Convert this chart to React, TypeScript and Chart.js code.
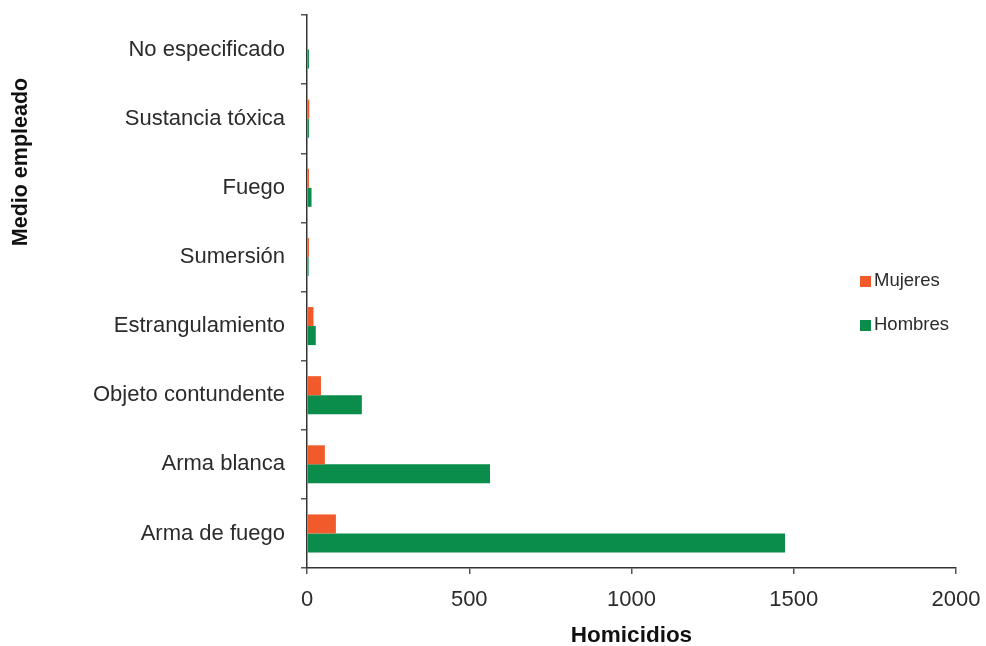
import React, { useEffect, useRef } from "react";
import { Chart, registerables } from "chart.js";

Chart.register(...registerables);

const categories = [
  "No especificado",
  "Sustancia tóxica",
  "Fuego",
  "Sumersión",
  "Estrangulamiento",
  "Objeto contundente",
  "Arma blanca",
  "Arma de fuego",
];
const mujeres = [0, 7, 6, 6, 20, 43, 55, 89];
const hombres = [6, 6, 14, 5, 27, 169, 564, 1473];
const xTicks = [0, 500, 1000, 1500, 2000];

const FONT = "'Liberation Sans', Arial, sans-serif";
const TEXT = "#2b2b2b";
const ORANGE = "#F15A2B";
const GREEN = "#0A8C4A";

const overlay = {
  id: "overlay",
  afterDraw(chart: any) {
    const ctx = chart.ctx;
    ctx.save();
    ctx.fillStyle = "#111";
    ctx.font = `bold 21.5px ${FONT}`;
    ctx.textAlign = "center";
    ctx.textBaseline = "middle";
    ctx.translate(21, 162);
    ctx.rotate(-Math.PI / 2);
    ctx.fillText("Medio empleado", 0, 0);
    ctx.restore();

    ctx.save();
    const items = chart.data.datasets.map((d: any) => ({ label: d.label, color: d.backgroundColor }));
    const ys = [281, 325];
    ctx.font = `18.5px ${FONT}`;
    ctx.textBaseline = "middle";
    ctx.textAlign = "left";
    items.forEach((it: any, i: number) => {
      ctx.fillStyle = it.color;
      ctx.fillRect(860, ys[i] - 5, 11, 11);
      ctx.fillStyle = TEXT;
      ctx.fillText(it.label, 874, ys[i]);
    });
    ctx.restore();
  },
};

export default function App() {
  const ref = useRef<HTMLCanvasElement>(null);
  useEffect(() => {
    const chart = new Chart(ref.current!, {
      type: "bar",
      data: {
        labels: categories,
        datasets: [
          { label: "Mujeres", data: mujeres, backgroundColor: ORANGE, barPercentage: 1, categoryPercentage: 0.55 },
          { label: "Hombres", data: hombres, backgroundColor: GREEN, barPercentage: 1, categoryPercentage: 0.55 },
        ],
      },
      options: {
        indexAxis: "y",
        animation: false,
        responsive: false,
        layout: { padding: { left: 0, top: 15, right: 30, bottom: 0 } },
        plugins: { legend: { display: false }, tooltip: { enabled: false } },
        scales: {
          x: {
            min: 0,
            max: 2000,
            afterBuildTicks: (s: any) => {
              s.ticks = xTicks.map((v) => ({ value: v }));
            },
            grid: { drawOnChartArea: false, drawTicks: true, tickLength: 6, color: "#555", lineWidth: 1.5 },
            border: { display: true, color: "#333", width: 1.5 },
            ticks: {
              color: TEXT,
              font: { family: FONT, size: 22 },
              padding: 13,
              maxRotation: 0,
              callback: (v: any) => String(v),
            },
            title: {
              display: true,
              text: "Homicidios",
              color: "#111",
              font: { family: FONT, size: 22.5, weight: "bold" },
              padding: { top: 0, bottom: -3 },
            },
            afterFit: (s: any) => {
              s.height = 78;
              s.paddingLeft = 0;
              s.paddingRight = 0;
            },
          },
          y: {
            grid: { drawOnChartArea: false, drawTicks: true, tickLength: 6, color: "#555", lineWidth: 1.5, offset: true },
            border: { display: true, color: "#333", width: 1.5 },
            ticks: { color: TEXT, font: { family: FONT, size: 22 }, padding: 16 },
            afterFit: (s: any) => {
              s.width = 307;
              s.paddingTop = 0;
              s.paddingBottom = 0;
            },
          },
        },
      },
      plugins: [overlay],
    } as any);
    return () => chart.destroy();
  }, []);
  return (
    <div style={{ position: "fixed", left: 0, top: 0, width: 986, height: 646, background: "#fff" }}>
      <canvas ref={ref} width={986} height={646} style={{ width: 986, height: 646 }} />
    </div>
  );
}
